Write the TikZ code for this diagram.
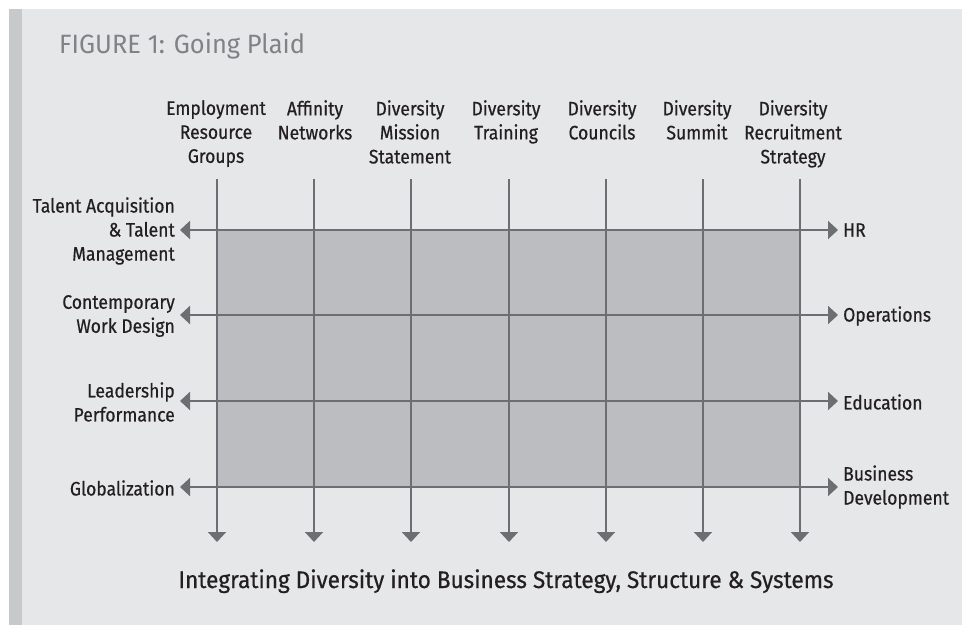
\documentclass[tikz,border=0pt]{standalone}
\usepackage{fontspec}
\setmainfont{Fira Sans}[FakeStretch=0.9,FakeBold=0.5]
\newfontfamily\titlefont{Fira Sans}[FakeStretch=0.96]
\newfontfamily\footfont{Fira Sans}[FakeStretch=0.94,FakeBold=0.5]
\usetikzlibrary{arrows.meta}
\definecolor{bgpanel}{HTML}{E6E7E8}
\definecolor{sidebar}{HTML}{C8C9CB}
\definecolor{cellfill}{HTML}{BCBDC0}
\definecolor{linegray}{HTML}{6D6E71}
\definecolor{titlegray}{HTML}{808285}
\definecolor{ink}{HTML}{231F20}
\begin{document}
\begin{tikzpicture}[x=1pt,y=-1pt,
  gridline/.style={draw=linegray,line width=2pt},
  collabel/.style={anchor=north,align=center,inner sep=0pt,text=ink,font=\fontsize{19.5}{24}\selectfont},
  leftlabel/.style={anchor=east,align=right,inner sep=0pt,text=ink,font=\fontsize{19.5}{24}\selectfont},
  rightlabel/.style={anchor=west,align=left,inner sep=0pt,text=ink,font=\fontsize{19.5}{24}\selectfont}]
\useasboundingbox (0,0) rectangle (962,625);
\fill[white] (0,0) rectangle (962,625);
\fill[bgpanel] (9,9) rectangle (962,625);
\fill[sidebar] (9,9) rectangle (22,625);

\node[anchor=base west,inner sep=0pt,text=titlegray,font=\titlefont\fontsize{26.5}{30}\selectfont] (title) at (59,53) {FIGURE 1: Going Plaid};

% shaded grid area
\fill[cellfill] (217,230) rectangle (800,487);

% column positions
\foreach \i/\x in {1/217,2/314,3/411,4/509,5/606,6/703,7/800}{
  \coordinate (ct\i) at (\x,179);
  \coordinate (cb\i) at (\x,542);
}
% row positions
\foreach \j/\y in {1/230,2/315,3/401,4/487}{
  \coordinate (rl\j) at (180,\y);
  \coordinate (rr\j) at (838,\y);
}

\foreach \i in {1,...,7}{
  \draw[gridline,-{Triangle[width=18pt,length=10pt]},color=linegray] (ct\i) -- (cb\i);
}
\foreach \j in {1,...,4}{
  \draw[gridline,{Triangle[width=18pt,length=10pt]}-{Triangle[width=18pt,length=10pt]},color=linegray] (rl\j) -- (rr\j);
}

% column labels
\node[collabel] (c1) at (216,100) {Employment\\Resource\\Groups};
\node[collabel] (c2) at (315,100) {Affinity\\Networks};
\node[collabel] (c3) at (410,100) {Diversity\\Mission\\Statement};
\node[collabel] (c4) at (506,100) {Diversity\\Training};
\node[collabel] (c5) at (602,100) {Diversity\\Councils};
\node[collabel] (c6) at (697,100) {Diversity\\Summit};
\node[collabel] (c7) at (793,100) {Diversity\\Recruitment\\Strategy};

% left labels
\node[leftlabel] (l1) at (175,231) {Talent Acquisition\\\& Talent\\Management};
\node[leftlabel] (l2) at (175,316) {Contemporary\\Work Design};
\node[leftlabel] (l3) at (175,402) {Leadership\\Performance};
\node[leftlabel] (l4) at (175,488) {Globalization};

% right labels
\node[rightlabel] (r1) at (843,230) {HR};
\node[rightlabel] (r2) at (843,316) {Operations};
\node[rightlabel] (r3) at (843,402) {Education};
\node[rightlabel] (r4) at (843,487) {Business\\Development};

\node[anchor=base,inner sep=0pt,text=ink,font=\footfont\fontsize{24}{28}\selectfont] (foot) at (506,588) {Integrating Diversity into Business Strategy, Structure \& Systems};
\end{tikzpicture}
\end{document}
